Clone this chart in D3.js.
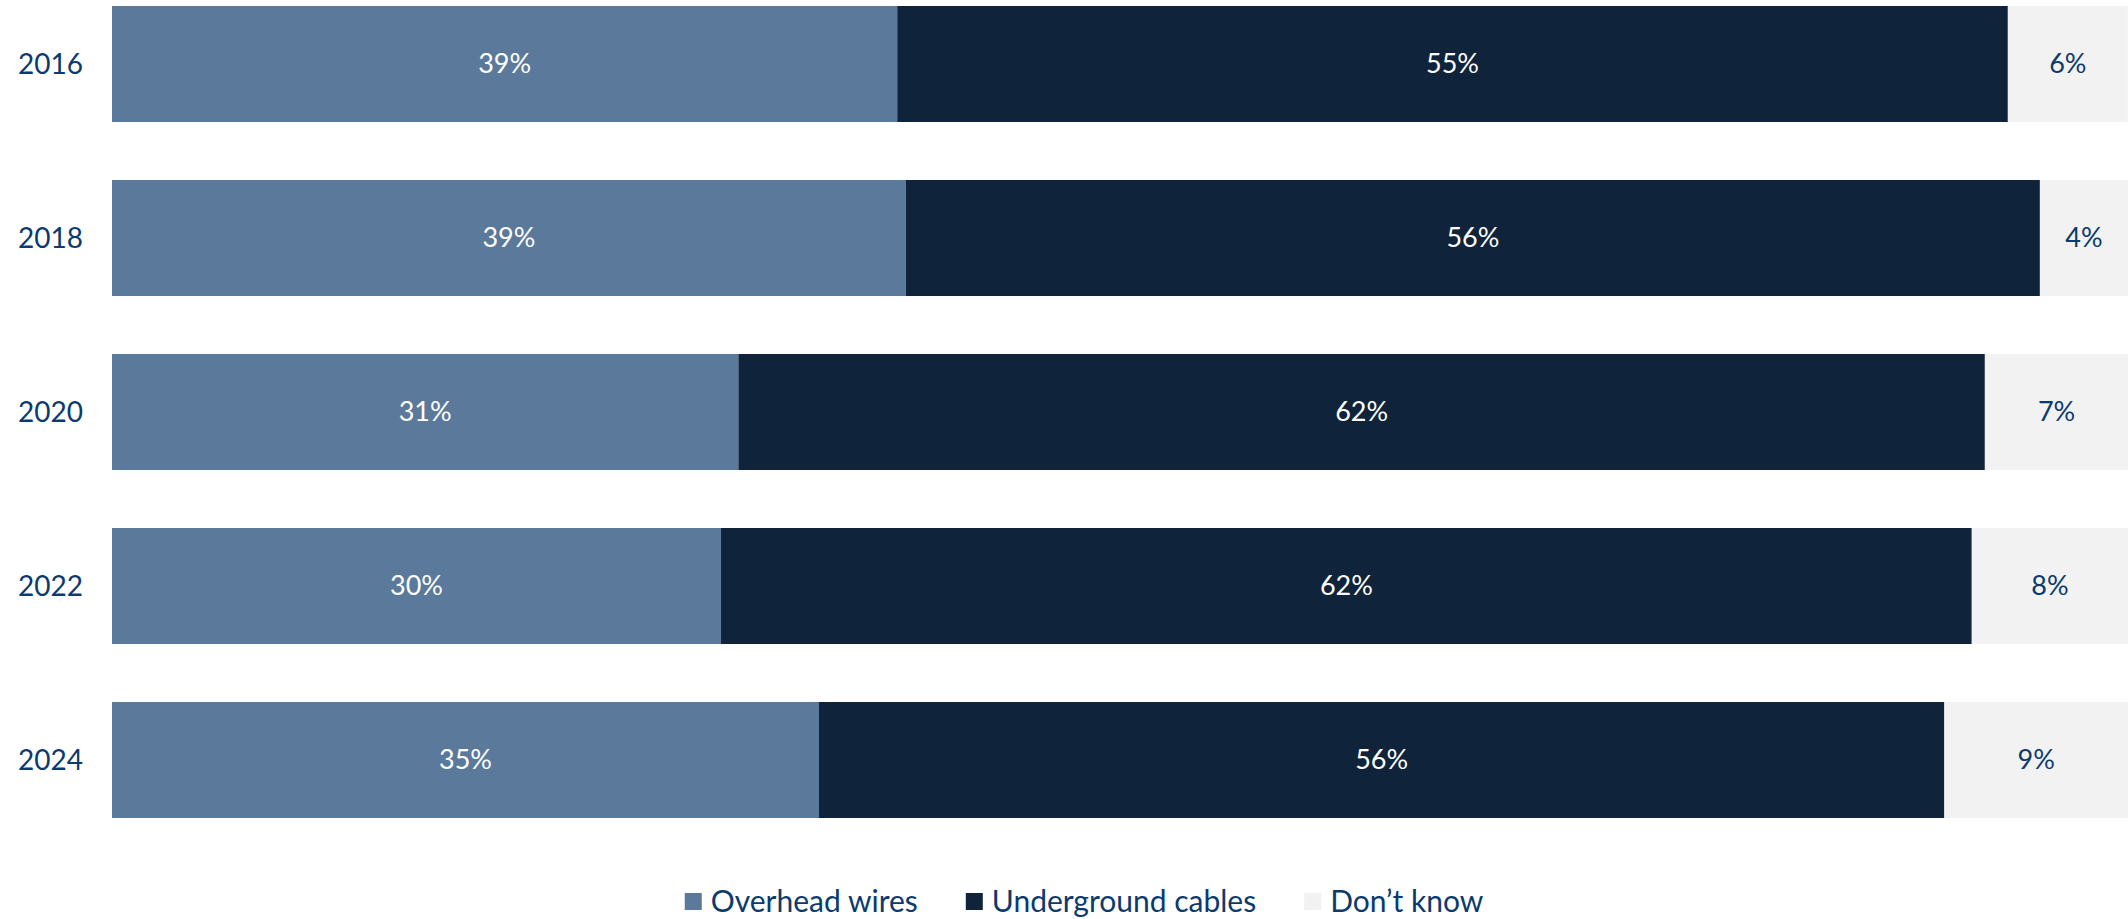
<!DOCTYPE html>
<html><head><meta charset="utf-8">
<script src="https://cdn.jsdelivr.net/npm/d3@7"></script>
<style>html,body{margin:0;padding:0;background:#fff;overflow:hidden}</style>
</head><body><svg id="c" width="2128" height="919"></svg>
<script>
const years = ["2016","2018","2020","2022","2024"];
const seriesNames = ["Overhead wires","Underground cables","Don\u2019t know"];
const overhead = [38.95, 39.38, 31.07, 30.21, 35.07];
const underground = [55.09, 56.25, 61.83, 62.04, 55.82];
const dontKnow = [5.95, 4.37, 7.11, 7.75, 9.11];
const labelsOverhead = ["39%","39%","31%","30%","35%"];
const labelsUnderground = ["55%","56%","62%","62%","56%"];
const labelsDontKnow = ["6%","4%","7%","8%","9%"];

const colors = ["#5b7a9b","#0f233a","#f2f2f2"];
const labelColors = ["#ffffff","#ffffff","#0b3a6e"];
const textColor = "#0b3a6e";
const font = "Lato, 'Open Sans', sans-serif";

const svg = d3.select("#c");
const x = d3.scaleLinear().domain([0,100]).range([112,2128]);
const y = d3.scaleBand().domain(years).range([6, 818]).paddingInner(58/174).paddingOuter(0);

const rows = years.map((yr,i)=>({year:yr, v:[overhead[i],underground[i],dontKnow[i]], l:[labelsOverhead[i],labelsUnderground[i],labelsDontKnow[i]]}));

rows.forEach(r=>{
  let acc=0;
  r.v.forEach((v,k)=>{
    const x0=x(acc), x1=x(acc+v);
    svg.append("rect").attr("x",x0).attr("y",y(r.year)).attr("width",x1-x0).attr("height",y.bandwidth()).attr("fill",colors[k]);
    svg.append("text").attr("x",(x0+x1)/2).attr("y",y(r.year)+y.bandwidth()/2).attr("dy","0.35em")
      .attr("text-anchor","middle").attr("font-family",font).attr("font-size",27).attr("fill",labelColors[k]).text(r.l[k]);
    acc+=v;
  });
});

const yAxis = d3.axisLeft(y).tickSize(0).tickPadding(0);
const ga = svg.append("g").attr("transform","translate(83,0)").call(yAxis);
ga.select(".domain").remove();
ga.selectAll("text").attr("font-family",font).attr("font-size",28).attr("fill",textColor).attr("dy","0.35em");

// legend
const lg = svg.append("g");
let lx = 0;
seriesNames.forEach((n,k)=>{
  const g = lg.append("g").attr("transform",`translate(${lx},0)`);
  g.append("rect").attr("x",0).attr("y",-8).attr("width",17).attr("height",17).attr("fill",colors[k]);
  const t = g.append("text").attr("x",26).attr("y",0).attr("dy","0.35em").attr("font-family",font).attr("font-size",30).attr("fill",textColor).text(n);
  const w = t.node().getComputedTextLength();
  lx += 26 + w + 48;
});
const totalW = lx - 48;
lg.attr("transform",`translate(${1084 - totalW/2},901)`);
</script></body></html>
